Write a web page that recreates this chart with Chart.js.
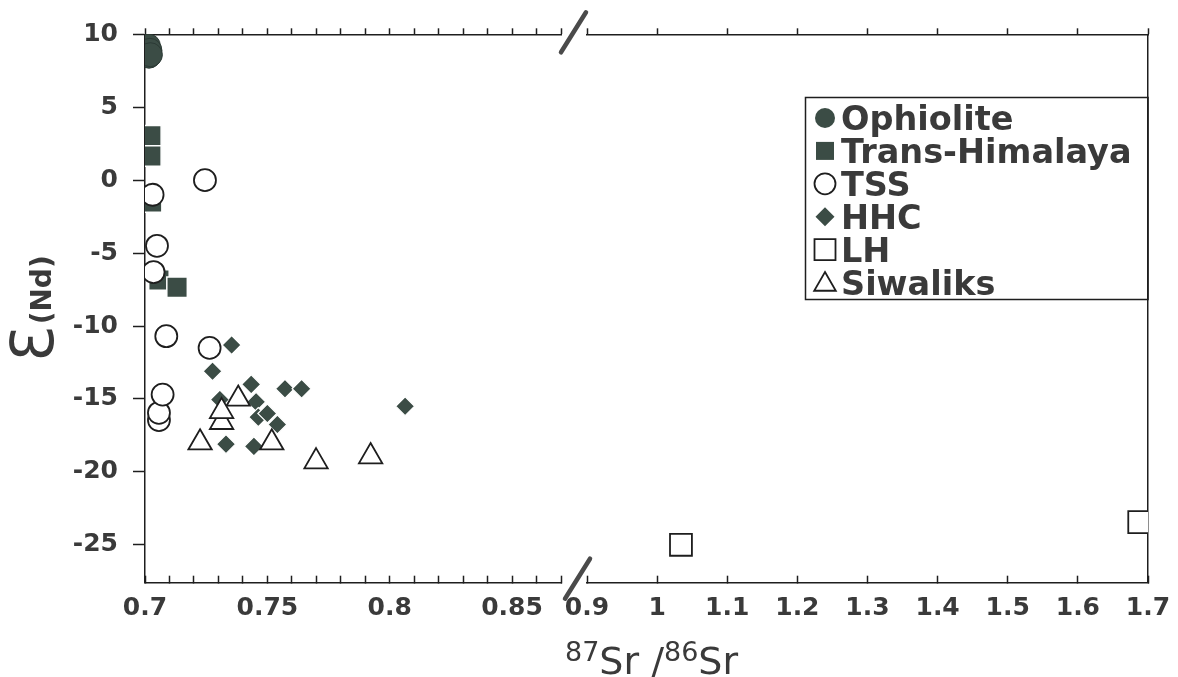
<!DOCTYPE html>
<html>
<head>
<meta charset="utf-8">
<script src="https://cdn.jsdelivr.net/npm/chart.js@4.4.1/dist/chart.umd.min.js"></script>
<style>
  html, body { margin: 0; padding: 0; background: #fff; }
  #wrap { width: 1178px; height: 677px; }
</style>
</head>
<body>
<div id="wrap"><canvas id="c" width="1178" height="677"></canvas></div>
<script>
// eNd vs 87Sr/86Sr, x axis broken between 0.87 and 0.90

const ophioliteX = [0.7014, 0.7020, 0.7016, 0.7022];
const ophioliteY = [9.2, 8.9, 8.5, 8.6];

const transHimX = [0.7024, 0.7024, 0.7027, 0.7057, 0.7131];
const transHimY = [3.05, 1.65, -1.5, -6.85, -7.35];

const tssX = [0.7245, 0.7031, 0.7049, 0.7035, 0.7087, 0.7264, 0.7057, 0.7057, 0.7072];
const tssY = [0.0, -1.0, -4.5, -6.3, -10.7, -11.5, -16.45, -15.95, -14.7];

const hhcX = [0.7354, 0.7276, 0.7434, 0.7306, 0.7454, 0.7572, 0.7640, 0.7463, 0.7500, 0.7541, 0.7331, 0.7445, 0.8063];
const hhcY = [-11.3, -13.1, -14.0, -15.05, -15.2, -14.3, -14.3, -16.25, -16.0, -16.75, -18.1, -18.25, -15.5];

const lhX = [1.034, 1.6875];
const lhY = [-25.0, -23.45];

const siwX = [0.7225, 0.7381, 0.7313, 0.7313, 0.7518, 0.7699, 0.7922];
const siwY = [-18.0, -15.0, -16.6, -15.85, -18.0, -19.3, -18.95];

const leftTickLabels = [0.7, 0.75, 0.8, 0.85];
const rightTickLabels = [0.9, 1, 1.1, 1.2, 1.3, 1.4, 1.5, 1.6, 1.7];
const yTickLabels = [-25, -20, -15, -10, -5, 0, 5, 10];

const FILL = '#3b4c45';
const INK = '#1e1e1e';
const TEXT = '#3a3a3a';
const FONT = "'DejaVu Sans', sans-serif";

Chart.defaults.font.family = FONT;
Chart.defaults.color = TEXT;

const pts = (xs, ys) => xs.map((x, i) => ({ x: x, y: ys[i] }));
const fmt = v => String(Math.round(v * 100) / 100);
const near = (list, v) => list.some(t => Math.abs(t - v) < 1e-6);

// widths of the two halves + the gap between them (px)
const W_LEFT = 416, W_GAP = 26, W_RIGHT = 561;
const BOTTOM_H = 94.3, TOP_H = 5;

function bottomAxis(min, max, step, weight, labels) {
    return {
        type: 'linear', position: 'bottom', stack: 'xb', stackWeight: weight,
        min: min, max: max,
        afterFit: s => { s.height = BOTTOM_H; s.paddingLeft = 0; s.paddingRight = 0; },
        border: { display: true, color: INK, width: 1.5 },
        grid: { display: true, drawOnChartArea: false, drawTicks: true, tickLength: -7, tickColor: INK, tickWidth: 1.5 },
        ticks: {
            stepSize: step, autoSkip: false, maxRotation: 0, padding: 18,
            font: { size: 25, weight: 'bold' }, color: TEXT,
            callback: v => near(labels, v) ? fmt(v) : ''
        }
    };
}

function topAxis(min, max, step, weight) {
    return {
        type: 'linear', position: 'top', stack: 'xt', stackWeight: weight,
        min: min, max: max,
        afterFit: s => { s.height = TOP_H; s.paddingLeft = 0; s.paddingRight = 0; },
        border: { display: true, color: INK, width: 1.5 },
        grid: { display: true, drawOnChartArea: false, drawTicks: true, tickLength: 6, tickColor: INK, tickWidth: 1.5 },
        ticks: { stepSize: step, autoSkip: false, display: false }
    };
}

function gapAxis(pos, stack, h) {
    return {
        type: 'linear', position: pos, stack: stack, stackWeight: W_GAP,
        min: 0, max: 1,
        afterFit: s => { s.height = h; s.paddingLeft = 0; s.paddingRight = 0; },
        border: { display: false },
        grid: { display: false },
        ticks: { display: false }
    };
}

function drawMarker(ctx, ds, x, y) {
    ctx.save();
    ctx.fillStyle = ds.backgroundColor;
    ctx.strokeStyle = ds.borderColor;
    ctx.lineWidth = ds.borderWidth;
    ctx.beginPath();
    const open = ds.backgroundColor === '#ffffff';
    if (ds.pointStyle === 'circle') {
        ctx.arc(x, y, open ? 10.5 : 10, 0, Math.PI * 2);
    } else if (ds.pointStyle === 'rect') {
        const h = open ? 10.5 : 9;
        ctx.rect(x - h, y - h, 2 * h, 2 * h);
    } else if (ds.pointStyle === 'rectRot') {
        const r = 9.5;
        ctx.moveTo(x - r, y); ctx.lineTo(x, y - r); ctx.lineTo(x + r, y); ctx.lineTo(x, y + r);
        ctx.closePath();
    } else if (ds.pointStyle === 'triangle') {
        const r = 12.5;
        for (let k = 0; k < 3; k++) {
            const a = k * 2 * Math.PI / 3;
            const px = x + Math.sin(a) * r, py = y + 2 - Math.cos(a) * r;
            if (k === 0) ctx.moveTo(px, py); else ctx.lineTo(px, py);
        }
        ctx.closePath();
    }
    ctx.fill();
    if (open) ctx.stroke();
    ctx.restore();
}

const decorPlugin = {
    id: 'decor',
    afterDraw(chart) {
        const ctx = chart.ctx;
        const area = chart.chartArea;
        ctx.save();

        // axis break marks
        ctx.strokeStyle = '#4a4a4a';
        ctx.lineWidth = 4.5;
        ctx.lineCap = 'round';
        ctx.beginPath();
        ctx.moveTo(561, area.top + 18); ctx.lineTo(586, area.top - 22);
        ctx.moveTo(565, area.bottom + 16); ctx.lineTo(590, area.bottom - 24);
        ctx.stroke();

        // legend box
        ctx.lineCap = 'butt';
        ctx.lineWidth = 1.5;
        ctx.strokeStyle = INK;
        ctx.strokeRect(805.5, 97.5, area.right - 805.5, 202);
        ctx.font = 'bold 33.5px ' + FONT;
        ctx.fillStyle = TEXT;
        ctx.textBaseline = 'alphabetic';
        ctx.textAlign = 'left';
        chart.data.datasets.forEach((ds, i) => {
            const base = 130 + i * 32.9;
            drawMarker(ctx, ds, 825, base - 12);
            ctx.fillText(ds.label, 841, base);
        });

        // x title: 87Sr /86Sr
        let x = 565;
        const part = (txt, size, base) => {
            ctx.font = size + 'px ' + FONT;
            ctx.fillText(txt, x, base);
            x += ctx.measureText(txt).width;
        };
        part('87', 27, 661);
        part('Sr', 38, 674);
        part(' /', 38, 674);
        part('86', 27, 661);
        part('Sr', 38, 674);

        // y title: epsilon(Nd), rotated
        ctx.translate(53, 362);
        ctx.rotate(-Math.PI / 2);
        ctx.font = '58px ' + FONT;
        ctx.fillText('\u0190', 0, 0);
        const w = ctx.measureText('\u0190').width;
        ctx.font = 'bold 28px ' + FONT;
        ctx.fillText('(Nd)', w + 2, -2);

        ctx.restore();
    }
};

const datasets = [
    { label: 'Ophiolite', data: pts(ophioliteX, ophioliteY), xAxisID: 'xL',
      pointStyle: 'circle', pointRadius: 12, backgroundColor: FILL, borderColor: '#2c3a35', borderWidth: 1, order: 5 },
    { label: 'Trans-Himalaya', data: pts(transHimX, transHimY), xAxisID: 'xL',
      pointStyle: 'rect', pointRadius: 14.5, backgroundColor: FILL, borderColor: '#ffffff', borderWidth: 1.5, order: 3 },
    { label: 'TSS', data: pts(tssX, tssY), xAxisID: 'xL',
      pointStyle: 'circle', pointRadius: 11, backgroundColor: '#ffffff', borderColor: INK, borderWidth: 1.8, order: 1 },
    { label: 'HHC', data: pts(hhcX, hhcY), xAxisID: 'xL',
      pointStyle: 'rectRot', pointRadius: 9.5, backgroundColor: FILL, borderColor: '#ffffff', borderWidth: 1.2, order: 2 },
    { label: 'LH', data: pts(lhX, lhY), xAxisID: 'xR',
      pointStyle: 'rect', pointRadius: 15.5, backgroundColor: '#ffffff', borderColor: INK, borderWidth: 1.8, order: 4 },
    { label: 'Siwaliks', data: pts(siwX, siwY), xAxisID: 'xL',
      pointStyle: 'triangle', pointRadius: 13.5, backgroundColor: '#ffffff', borderColor: INK, borderWidth: 1.8, order: 0 }
];
datasets.forEach(d => { d.yAxisID = 'y'; d.pointHoverRadius = d.pointRadius; });

new Chart(document.getElementById('c'), {
    type: 'scatter',
    data: { datasets: datasets },
    options: {
        responsive: false,
        animation: false,
        devicePixelRatio: 1,
        layout: { padding: { top: 29.3, right: 30, left: 0, bottom: 0 } },
        plugins: { legend: { display: false }, tooltip: { enabled: false } },
        scales: {
            xL: bottomAxis(0.7, 0.87, 0.01, W_LEFT, leftTickLabels),
            xG: gapAxis('bottom', 'xb', BOTTOM_H),
            xR: bottomAxis(0.9, 1.7, 0.1, W_RIGHT, rightTickLabels),
            // top boxes are laid out in reverse order
            tR: topAxis(0.9, 1.7, 0.1, W_RIGHT),
            tG: gapAxis('top', 'xt', TOP_H),
            tL: topAxis(0.7, 0.87, 0.01, W_LEFT),
            y: {
                type: 'linear', position: 'left', min: -27.6, max: 10,
                afterFit: s => { s.width = 145; },
                afterBuildTicks: s => { s.ticks = yTickLabels.map(v => ({ value: v })); },
                border: { display: true, color: INK, width: 1.5 },
                grid: { display: true, drawOnChartArea: false, drawTicks: true, tickLength: 12, tickColor: INK, tickWidth: 1.5 },
                ticks: { padding: 15, font: { size: 25, weight: 'bold' }, color: TEXT, callback: v => fmt(v) }
            },
            yR: {
                type: 'linear', position: 'right', min: -27.6, max: 10,
                afterFit: s => { s.width = 0; },
                border: { display: true, color: INK, width: 1.5 },
                grid: { display: false },
                ticks: { display: false }
            }
        }
    },
    plugins: [decorPlugin]
});
</script>
</body>
</html>
